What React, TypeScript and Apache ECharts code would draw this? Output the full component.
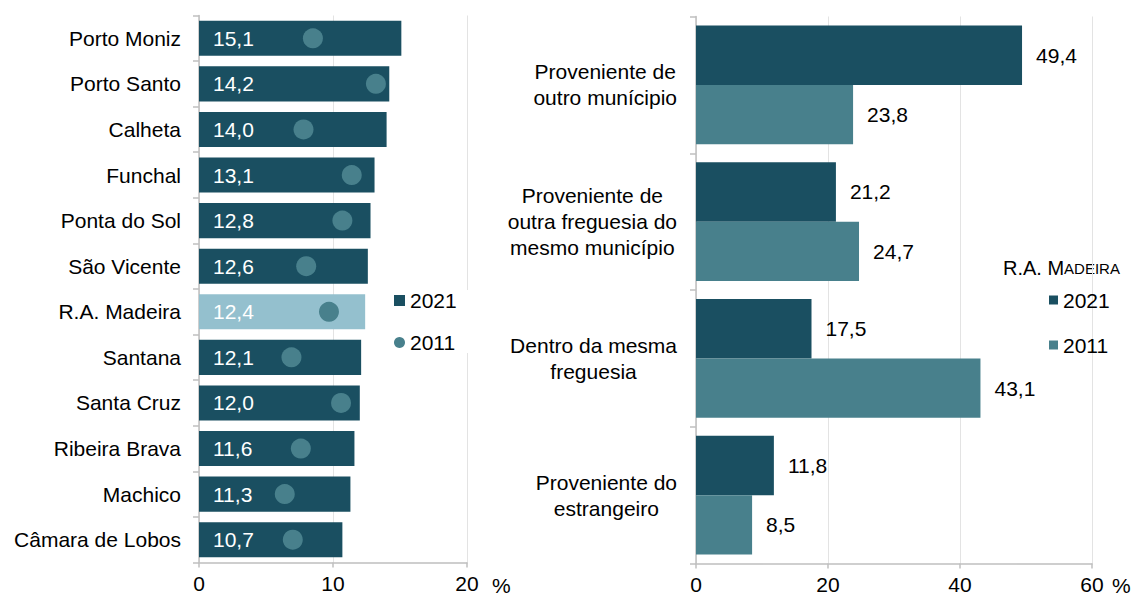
import React, { useEffect, useRef } from "react";
import * as echarts from "echarts";

const municipalities = [
  "Porto Moniz",
  "Porto Santo",
  "Calheta",
  "Funchal",
  "Ponta do Sol",
  "São Vicente",
  "R.A. Madeira",
  "Santana",
  "Santa Cruz",
  "Ribeira Brava",
  "Machico",
  "Câmara de Lobos",
];
const values2021Left = [15.1, 14.2, 14.0, 13.1, 12.8, 12.6, 12.4, 12.1, 12.0, 11.6, 11.3, 10.7];
const values2011Left = [8.5, 13.2, 7.8, 11.4, 10.7, 8.0, 9.7, 6.9, 10.6, 7.6, 6.4, 7.0];

const origins = [
  "Proveniente de\noutro munícipio",
  "Proveniente de\noutra freguesia do\nmesmo município",
  "Dentro da mesma\nfreguesia",
  "Proveniente do\nestrangeiro",
];
const values2021Right = [49.4, 21.2, 17.5, 11.8];
const values2011Right = [23.8, 24.7, 43.1, 8.5];

const leftTicks = [0, 10, 20];
const rightTicks = [0, 20, 40, 60];

const C_DARK = "#1a4f61";
const C_MID = "#48808c";
const C_LIGHT = "#94c0ce";
const GRID = "#e3e3e3";
const AXIS = "#bfbfbf";
const FONT = "'Liberation Sans', Arial, sans-serif";
const FS = 21;

const fmt = (v: number) => v.toFixed(1).replace(".", ",");

export default function App() {
  const ref = useRef<HTMLDivElement>(null);
  useEffect(() => {
    if (!ref.current) return;
    const chart = echarts.init(ref.current, undefined, { renderer: "svg" });
    const xAxisCommon = (grid: number, ticks: number[]) => ({
      type: "value" as const,
      gridIndex: grid,
      min: ticks[0],
      max: ticks[ticks.length - 1],
      interval: ticks[1] - ticks[0],
      axisLine: { show: true, lineStyle: { color: AXIS, width: 1.5 } },
      axisTick: { show: true, length: 5, lineStyle: { color: AXIS, width: 1.5 } },
      splitLine: { show: true, lineStyle: { color: GRID, width: 1 } },
      axisLabel: { color: "#000", fontSize: FS, fontFamily: FONT, margin: 10 },
    });
    chart.setOption({
      animation: false,
      textStyle: { fontFamily: FONT },
      grid: [
        { left: 199, width: 268, top: 15.5, height: 547, containLabel: false },
        { left: 696, width: 396, top: 16.5, height: 547, containLabel: false },
      ],
      xAxis: [xAxisCommon(0, leftTicks), xAxisCommon(1, rightTicks)],
      yAxis: [
        {
          type: "category",
          gridIndex: 0,
          data: municipalities,
          inverse: true,
          axisLine: { show: true, lineStyle: { color: AXIS, width: 1.5 } },
          axisTick: { show: true, length: 6, lineStyle: { color: AXIS, width: 1.5 } },
          axisLabel: { color: "#000", fontSize: FS, fontFamily: FONT, margin: 18 },
        },
        {
          type: "category",
          gridIndex: 1,
          data: origins,
          inverse: true,
          axisLine: { show: true, lineStyle: { color: AXIS, width: 1.5 } },
          axisTick: { show: true, length: 6, lineStyle: { color: AXIS, width: 1.5 } },
          axisLabel: {
            margin: 19,
            formatter: (v: string) => v.split("\n").map((l) => `{c|${l}}`).join("\n"),
            rich: {
              c: { align: "center", fontSize: FS, lineHeight: 26, color: "#000", fontFamily: FONT },
            },
          },
        },
      ],
      legend: [
        {
          orient: "vertical",
          left: 394,
          top: 290,
          itemWidth: 11,
          itemHeight: 11,
          itemGap: 21,
          selectedMode: false,
          backgroundColor: "#fff",
          padding: [0, 12, 0, 0],
          textStyle: { fontSize: FS, color: "#000", fontFamily: FONT },
          data: [
            { name: "2021", icon: "rect", itemStyle: { color: C_DARK } },
            { name: "2011", icon: "circle", itemStyle: { color: C_MID } },
          ],
        },
        {
          orient: "vertical",
          left: 1044,
          top: 284.5,
          itemWidth: 9,
          itemHeight: 9,
          itemGap: 24,
          selectedMode: false,
          textStyle: { fontSize: FS, color: "#000", fontFamily: FONT },
          data: [
            { name: "2021", icon: "rect", itemStyle: { color: C_DARK } },
            { name: "2011", icon: "rect", itemStyle: { color: C_MID } },
          ],
        },
      ],
      graphic: [
        {
          type: "text",
          left: 492,
          top: 575,
          style: { text: "%", fontSize: FS, fill: "#000", fontFamily: FONT },
        },
        {
          type: "text",
          left: 1112,
          top: 575,
          style: { text: "%", fontSize: FS, fill: "#000", fontFamily: FONT },
        },
        {
          type: "text",
          left: 1003,
          top: 258,
          style: {
            text: "{a|R.A. M}{b|ADEIRA}",
            rich: {
              a: { fontSize: 20, fill: "#000", fontFamily: FONT },
              b: { fontSize: 15, fill: "#000", fontFamily: FONT },
            },
          },
        },
      ],
      series: [
        {
          name: "2021",
          type: "bar",
          xAxisIndex: 0,
          yAxisIndex: 0,
          barCategoryGap: "23%",
          data: values2021Left.map((v, i) => ({
            value: v,
            itemStyle: { color: municipalities[i] === "R.A. Madeira" ? C_LIGHT : C_DARK },
          })),
          label: {
            show: true,
            position: "insideLeft",
            distance: 14,
            color: "#fff",
            fontSize: FS,
            fontFamily: FONT,
            formatter: (p: any) => fmt(p.value),
          },
        },
        {
          name: "2011",
          type: "scatter",
          xAxisIndex: 0,
          yAxisIndex: 0,
          symbol: "circle",
          symbolSize: 20,
          z: 5,
          itemStyle: { color: C_MID, opacity: 1 },
          data: values2011Left,
        },
        {
          name: "2021",
          type: "bar",
          xAxisIndex: 1,
          yAxisIndex: 1,
          barGap: "0%",
          barCategoryGap: "13%",
          itemStyle: { color: C_DARK },
          data: values2021Right,
          label: {
            show: true,
            position: "right",
            distance: 14,
            color: "#000",
            fontSize: FS,
            fontFamily: FONT,
            formatter: (p: any) => fmt(p.value),
          },
        },
        {
          name: "2011",
          type: "bar",
          xAxisIndex: 1,
          yAxisIndex: 1,
          barGap: "0%",
          barCategoryGap: "13%",
          itemStyle: { color: C_MID },
          data: values2011Right,
          label: {
            show: true,
            position: "right",
            distance: 14,
            color: "#000",
            fontSize: FS,
            fontFamily: FONT,
            formatter: (p: any) => fmt(p.value),
          },
        },
      ],
    });
    return () => chart.dispose();
  }, []);
  return (
    <div
      ref={ref}
      style={{ position: "absolute", left: 0, top: 0, width: 1131, height: 596, background: "#fff" }}
    />
  );
}
